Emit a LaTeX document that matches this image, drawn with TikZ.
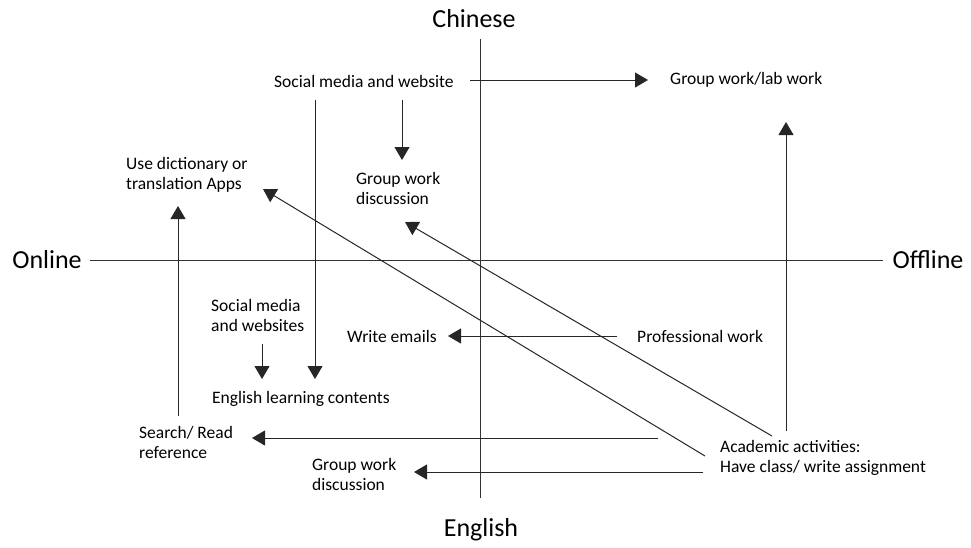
\documentclass[tikz,border=0pt]{standalone}
\usepackage{fontspec}
\setmainfont{Carlito}
\usetikzlibrary{arrows.meta}

\begin{document}
\begin{tikzpicture}[
         x=1pt, y=-1pt,
         axis/.style={draw=black!80, line width=1pt},
         link/.style={draw=black!85, line width=1pt, -{Triangle[length=13pt,width=15pt]}},
         pole/.style={font=\fontsize{26}{30}\selectfont, inner sep=0pt},
         item/.style={font=\fontsize{17.5}{20}\selectfont, inner sep=0pt, anchor=west, align=left}
      ]
         \useasboundingbox (0,0) rectangle (971,547);

         % Axes and poles
         \node[pole] (online) at (47,260) {Online};
         \node[pole] (offline) at (928,260) {Offline};
         \node[pole] (chinese) at (474,19) {Chinese};
         \node[pole] (english) at (481,530) {English};
         \draw[axis] (online.east) ++(8,0) coordinate (ol) -- (offline.west -| 883,0) coordinate (or);
         \draw[axis] (chinese.south -| 480,0) ++(0,11) coordinate (ct) -- (480,498) coordinate (eb);

         % Nodes for activities
         \node[item] (smweb) at (274,81) {Social media and website};
         \node[item] (grplab) at (670,80) {Group work/lab work};
         \node[item] (grpcn) at (356,188) {Group work\\discussion};
         \node[item] (dict) at (126,175) {Use dictionary or\\translation Apps};
         \node[item] (smwebs) at (211,315) {Social media\\and websites};
         \node[item] (emails) at (347,336) {Write emails};
         \node[item] (prof) at (637,336) {Professional work};
         \node[item] (englc) at (212,399) {English learning contents};
         \node[item] (search) at (139,442) {Search/ Read\\reference};
         \node[item] (grpen) at (312,474) {Group work\\discussion};
         \node[item] (acad) at (720,458) {Academic activities:\\Have class/ write assignment};

         % Free ends of the connectors
         \coordinate (smright) at (470,80);
         \coordinate (smdown) at (315,100);
         \coordinate (smdown2) at (402,100);
         \coordinate (acadtop) at (786,431);
         \coordinate (acadup) at (772,436);
         \coordinate (acadmid) at (705,456);
         \coordinate (acadsr) at (658,438);
         \coordinate (acadgr) at (703,472);

         % Arrows
         \draw[link] (smright) -- (grplab.west -| 648,0);
         \draw[link] (smdown) -- (315,379);
         \draw[link] (smdown2) -- (402,160);
         \draw[link] (178,416) -- (178,206);
         \draw[link] (262,344) -- (262,379);
         \draw[link] (prof.west) ++(-20,0) -- (448,336);
         \draw[link] (acadtop) -- (786,122);
         \draw[link] (acadup) -- (405,222);
         \draw[link] (acadmid) -- (263,189);
         \draw[link] (acadsr) -- (252,438);
         \draw[link] (acadgr) -- (414,472);
      \end{tikzpicture}
\end{document}
